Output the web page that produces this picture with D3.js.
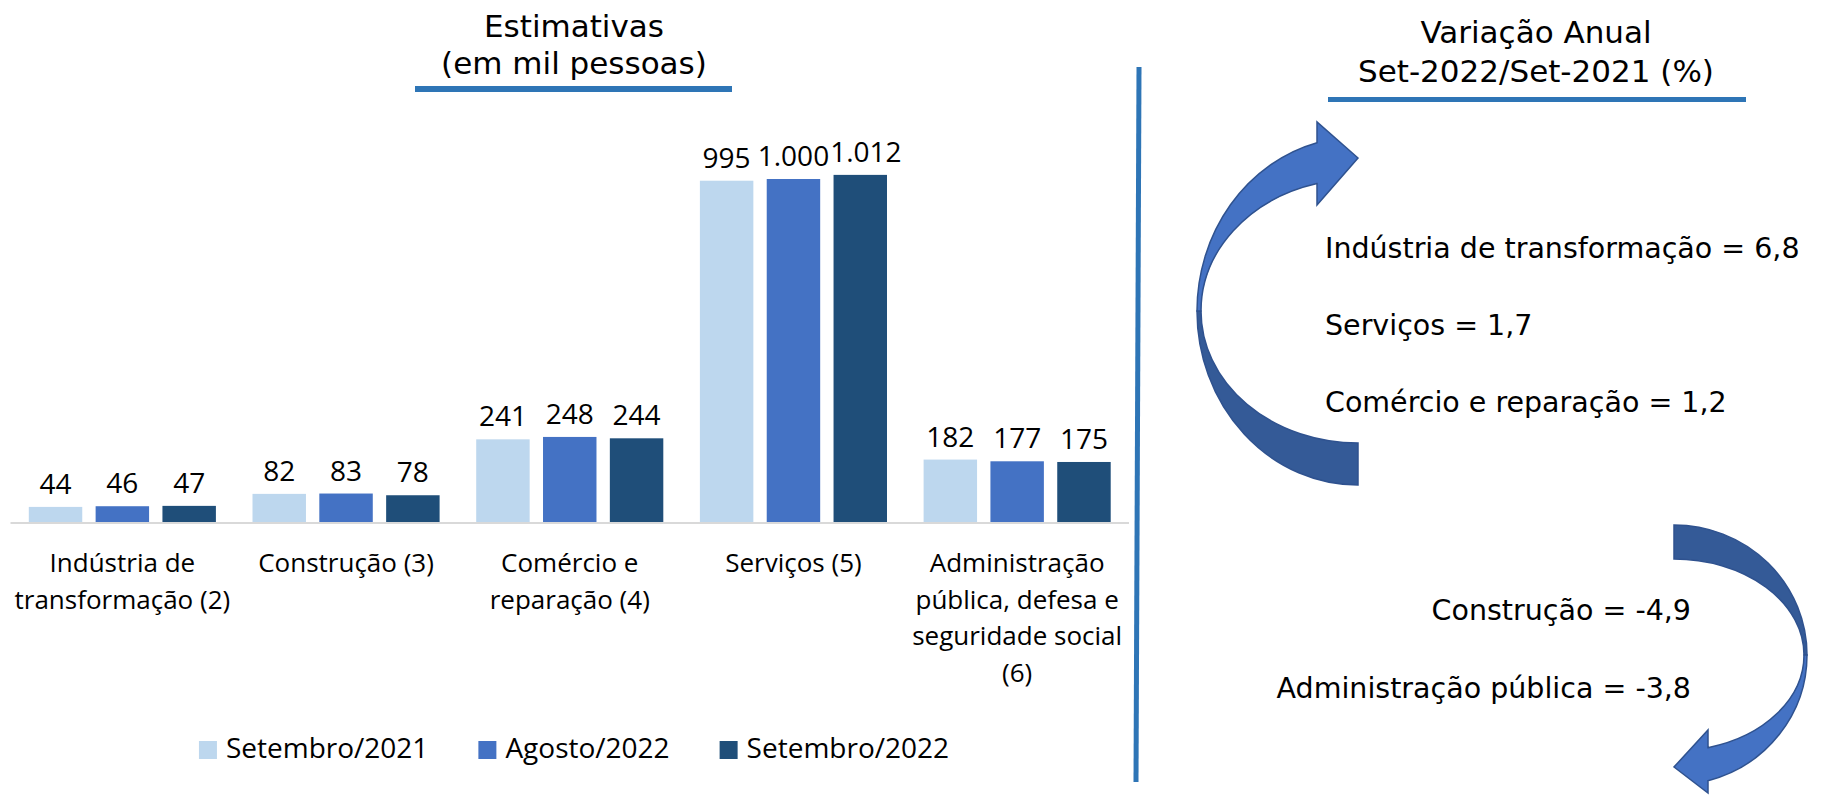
<!DOCTYPE html>
<html>
<head>
<meta charset="utf-8">
<script src="https://cdn.jsdelivr.net/npm/d3@7"></script>
<style>
  body { margin: 0; background: #fff; }
  svg { display: block; }
</style>
</head>
<body>
<script>
// categories, wrapped the way the tick labels are wrapped
const categories = ["Indústria", "Construção", "Comércio", "Serviços", "Administração"]
const tickLabels = [
    ["Indústria de", "transformação (2)"],
    ["Construção (3)"],
    ["Comércio e", "reparação (4)"],
    ["Serviços (5)"],
    ["Administração", "pública, defesa e", "seguridade social", "(6)"]
]
const seriesNames = ["Setembro/2021", "Agosto/2022", "Setembro/2022"]
const set2021 = [44, 82, 241, 995, 182]
const ago2022 = [46, 83, 248, 1000, 177]
const set2022 = [47, 78, 244, 1012, 175]

// annual variation Set-2022/Set-2021 (%)
const upNames = ["Indústria de transformação", "Serviços", "Comércio e reparação"]
const upValues = [6.8, 1.7, 1.2]
const downNames = ["Construção", "Administração pública"]
const downValues = [-4.9, -3.8]

const colors = ["#BDD7EE", "#4472C4", "#1F4E79"]
const series = [set2021, ago2022, set2022]

const W = 1823, H = 795
const svg = d3.select("body").append("svg")
    .attr("width", W)
    .attr("height", H)

const br = d3.formatLocale({decimal: ",", thousands: ".", grouping: [3], currency: ["R$", ""], minus: "-"})
const fmtInt = br.format(",d")
const fmtPct = br.format(".1f")

// scales
const x = d3.scaleBand()
    .domain(categories)
    .range([10.5, 1129])
const xInner = d3.scaleBand()
    .domain(d3.range(series.length))
    .range([18.3, x.bandwidth() - 18.3])
    .paddingInner(0.2)
const y = d3.scaleLinear()
    .domain([0, 1000])
    .range([522, 179])

// baseline
svg.append("line")
    .attr("x1", x.range()[0]).attr("x2", x.range()[1])
    .attr("y1", y(0) + 1).attr("y2", y(0) + 1)
    .attr("stroke", "#D9D9D9")
    .attr("stroke-width", 2)

// bars + value labels
const groups = svg.selectAll("g.cat")
    .data(categories)
    .join("g")
    .attr("class", "cat")
    .attr("transform", d => `translate(${x(d)},0)`)

groups.each(function(cat, ci) {
    const g = d3.select(this)
    const vals = series.map(s => s[ci])
    g.selectAll("rect")
        .data(vals)
        .join("rect")
        .attr("x", (d, i) => xInner(i))
        .attr("width", xInner.bandwidth())
        .attr("y", d => y(d))
        .attr("height", d => y(0) - y(d))
        .attr("fill", (d, i) => colors[i])

    const labels = g.selectAll("text.val")
        .data(vals)
        .join("text")
        .attr("class", "val")
        .attr("x", (d, i) => xInner(i) + xInner.bandwidth() / 2)
        .attr("y", d => y(d) - 13)
        .attr("text-anchor", "middle")
        .style("font-family", "'Open Sans'")
        .style("font-size", "28px")
        .attr("fill", "#000")
        .text(d => fmtInt(d))

    // push labels apart when they run into each other
    let prevRight = -Infinity
    labels.each(function() {
        const b = this.getBBox()
        if (b.x < prevRight + 1) {
            const shift = prevRight + 1 - b.x
            d3.select(this).attr("x", +d3.select(this).attr("x") + shift)
            prevRight = b.x + b.width + shift
        } else {
            prevRight = b.x + b.width
        }
    })
})

// category tick labels
svg.selectAll("text.tick")
    .data(categories)
    .join("text")
    .attr("class", "tick")
    .attr("text-anchor", "middle")
    .style("font-family", "'Open Sans'")
    .style("font-size", "26px")
    .attr("fill", "#000")
    .each(function(d, i) {
        d3.select(this).selectAll("tspan")
            .data(tickLabels[i])
            .join("tspan")
            .attr("x", x(d) + x.bandwidth() / 2)
            .attr("y", (t, j) => 572 + j * 36.5)
            .text(t => t)
    })

// legend
const legend = svg.append("g")
let lx = 0
seriesNames.forEach((name, i) => {
    const item = legend.append("g").attr("transform", `translate(${lx},0)`)
    item.append("rect")
        .attr("x", 0).attr("y", 741)
        .attr("width", 18).attr("height", 18)
        .attr("fill", colors[i])
    const t = item.append("text")
        .attr("x", 27).attr("y", 758)
        .style("font-family", "'Open Sans'")
        .style("font-size", "28px")
        .attr("fill", "#000")
        .text(name)
    lx += 27 + t.node().getComputedTextLength() + 50
})
const legW = lx - 50
legend.attr("transform", `translate(${574 - legW / 2},0)`)

// titles
function title(lines, cx, ys, size) {
    svg.append("text")
        .attr("text-anchor", "middle")
        .style("font-family", "'DejaVu Sans'")
        .style("font-size", size + "px")
        .attr("fill", "#000")
        .selectAll("tspan")
        .data(lines)
        .join("tspan")
        .attr("x", cx)
        .attr("y", (d, i) => ys[i])
        .text(d => d)
}
title(["Estimativas", "(em mil pessoas)"], 574, [37, 74], 31)
svg.append("rect").attr("x", 415).attr("y", 86).attr("width", 317).attr("height", 6).attr("fill", "#2E75B6")

title(["Variação Anual", "Set-2022/Set-2021 (%)"], 1536, [43, 82], 31)
svg.append("rect").attr("x", 1328).attr("y", 97).attr("width", 418).attr("height", 5).attr("fill", "#2E75B6")

// divider
svg.append("line")
    .attr("x1", 1139).attr("y1", 67)
    .attr("x2", 1136).attr("y2", 782)
    .attr("stroke", "#2E75B6")
    .attr("stroke-width", 5)

// curved arrows: two elliptic bands sharing a centre, the back half darker
const arrowLight = "#4472C4", arrowDark = "#345A97", arrowEdge = "#2F528F"

// up arrow (left side)
{
    const cx = 1358, cy = 311
    const oRx = 161, oRy = 174, iRx = 157, iRy = 132
    const hx = 1317
    const oy = cy - oRy * Math.sqrt(1 - ((cx - hx) / oRx) ** 2)
    const iy = cy - iRy * Math.sqrt(1 - ((cx - hx) / iRx) ** 2)
    const dark = `M${cx - oRx},${cy} A${oRx},${oRy} 0 0 0 ${cx},${cy + oRy} L${cx},${cy + iRy} A${iRx},${iRy} 0 0 1 ${cx - iRx},${cy} Z`
    const light = `M${cx - oRx},${cy} A${oRx},${oRy} 0 0 1 ${hx},${oy} L${hx},122 L${cx},158 L${hx},205 L${hx},${iy} A${iRx},${iRy} 0 0 0 ${cx - iRx},${cy} Z`
    svg.append("path").attr("d", dark).attr("fill", arrowDark).attr("stroke", arrowEdge).attr("stroke-width", 1.5)
    svg.append("path").attr("d", light).attr("fill", arrowLight).attr("stroke", arrowEdge).attr("stroke-width", 1.5)
}

// down arrow (right side)
{
    const cx = 1674, cy = 655
    const oRx = 133, oRy = 130, iRx = 130, iRy = 96
    const hx = 1708
    const oy = cy + oRy * Math.sqrt(1 - ((hx - cx) / oRx) ** 2)
    const iy = cy + iRy * Math.sqrt(1 - ((hx - cx) / iRx) ** 2)
    const dark = `M${cx},${cy - oRy} A${oRx},${oRy} 0 0 1 ${cx + oRx},${cy} L${cx + iRx},${cy} A${iRx},${iRy} 0 0 0 ${cx},${cy - iRy} Z`
    const light = `M${cx + oRx},${cy} A${oRx},${oRy} 0 0 1 ${hx},${oy} L${hx},793 L${cx},767 L${hx},730 L${hx},${iy} A${iRx},${iRy} 0 0 0 ${cx + iRx},${cy} Z`
    svg.append("path").attr("d", dark).attr("fill", arrowDark).attr("stroke", arrowEdge).attr("stroke-width", 1.5)
    svg.append("path").attr("d", light).attr("fill", arrowLight).attr("stroke", arrowEdge).attr("stroke-width", 1.5)
}

// variation texts
const varFont = "28.5px"
svg.selectAll("text.up")
    .data(upNames)
    .join("text")
    .attr("class", "up")
    .attr("x", 1325)
    .attr("y", (d, i) => 258 + i * 77)
    .style("font-family", "'DejaVu Sans'")
    .style("font-size", varFont)
    .attr("fill", "#000")
    .text((d, i) => `${d} = ${fmtPct(upValues[i])}`)

svg.selectAll("text.down")
    .data(downNames)
    .join("text")
    .attr("class", "down")
    .attr("x", 1691)
    .attr("y", (d, i) => 620 + i * 78)
    .attr("text-anchor", "end")
    .style("font-family", "'DejaVu Sans'")
    .style("font-size", varFont)
    .attr("fill", "#000")
    .text((d, i) => `${d} = ${fmtPct(downValues[i])}`)
</script>
</body>
</html>
